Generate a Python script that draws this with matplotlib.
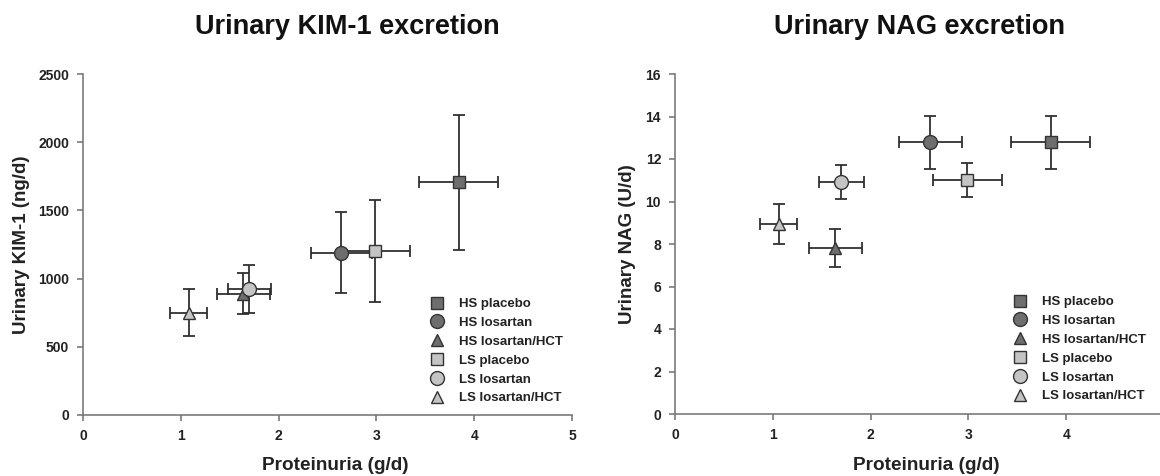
"""
Urinary KIM-1 and NAG excretion against proteinuria, per treatment period
"""

import matplotlib
matplotlib.use('Agg')
import matplotlib.pyplot as plt
from matplotlib.lines import Line2D

plt.rcParams['font.family'] = ['Liberation Sans', 'DejaVu Sans']
plt.rcParams['font.weight'] = 'bold'

groups = ['HS placebo', 'HS losartan', 'HS losartan/HCT',
          'LS placebo', 'LS losartan', 'LS losartan/HCT']
markers = ['s', 'o', '^', 's', 'o', '^']
fills = ['#6e6e6e', '#6e6e6e', '#6e6e6e', '#c4c4c4', '#c4c4c4', '#c4c4c4']

# proteinuria (g/d), mean +- sem
kim_x = [3.84, 2.64, 1.64, 2.99, 1.70, 1.08]
kim_xerr = [0.40, 0.31, 0.27, 0.35, 0.22, 0.19]
# urinary KIM-1 (ng/d)
kim_y = [1707, 1188, 890, 1202, 924, 751]
kim_yerr = [495, 297, 152, 377, 175, 170]

nag_x = [3.84, 2.61, 1.64, 2.99, 1.70, 1.06]
nag_xerr = [0.40, 0.32, 0.27, 0.35, 0.23, 0.19]
# urinary NAG (U/d)
nag_y = [12.78, 12.78, 7.82, 11.01, 10.93, 8.95]
nag_yerr = [1.24, 1.24, 0.90, 0.78, 0.81, 0.95]

xticks = [0, 1, 2, 3, 4, 5]
kim_ticks = [0, 500, 1000, 1500, 2000, 2500]
nag_ticks = [0, 2, 4, 6, 8, 10, 12, 14, 16]

W, H = 1160., 476.
fig = plt.figure(figsize=(W/100, H/100), dpi=100)

def px(x0, y0, x1, y1):
    # axes rect from pixel corners (top-left origin)
    return [x0/W, 1-y1/H, (x1-x0)/W, (y1-y0)/H]

ax1 = fig.add_axes(px(83, 74, 572, 415))
ax2 = fig.add_axes(px(675, 74, 1164, 414))

def draw(ax, xs, xe, ys, ye, yticks):
    for i in range(len(groups)):
        ax.errorbar(xs[i], ys[i], xerr=xe[i], yerr=ye[i], fmt='none',
                    ecolor='#303030', elinewidth=1.3, capsize=4.5, capthick=1.3, zorder=2)
    for i in range(len(groups)):
        ms = 10 if markers[i] == 'o' else 9
        ax.plot(xs[i], ys[i], marker=markers[i], ms=ms, mfc=fills[i],
                mec='#333333', mew=1.0, ls='none', zorder=3)
    ax.set_xlim(0, 5)
    ax.set_ylim(yticks[0], yticks[-1])
    ax.set_xticks(xticks)
    ax.set_yticks(yticks)
    for s in ['top', 'right']:
        ax.spines[s].set_visible(False)
    for s in ['left', 'bottom']:
        ax.spines[s].set_color('#7a7a7a')
        ax.spines[s].set_linewidth(1.2)
    ax.tick_params(direction='out', length=4, width=1.2, color='#7a7a7a',
                   labelsize=10, pad=6)
    for lab in ax.get_xticklabels() + ax.get_yticklabels():
        lab.set_fontweight('bold')
        lab.set_color('#222222')

draw(ax1, kim_x, kim_xerr, kim_y, kim_yerr, kim_ticks)
draw(ax2, nag_x, nag_xerr, nag_y, nag_yerr, nag_ticks)

fig.text(347/W, 1-27/H, 'Urinary KIM-1 excretion', ha='center', va='center',
         fontsize=19.5, fontweight='bold', color='#111111')
fig.text(920/W, 1-27/H, 'Urinary NAG excretion', ha='center', va='center',
         fontsize=19.5, fontweight='bold', color='#111111')
fig.text(335/W, 1-466/H, 'Proteinuria (g/d)', ha='center', va='center',
         fontsize=13.7, fontweight='bold', color='#222222')
fig.text(926/W, 1-466/H, 'Proteinuria (g/d)', ha='center', va='center',
         fontsize=13.7, fontweight='bold', color='#222222')
fig.text(22/W, 1-245/H, 'Urinary KIM-1 (ng/d)', ha='center', va='center',
         rotation=90, fontsize=13.5, fontweight='bold', color='#222222')
fig.text(627/W, 1-244/H, 'Urinary NAG (U/d)', ha='center', va='center',
         rotation=90, fontsize=13.5, fontweight='bold', color='#222222')

handles = [Line2D([], [], marker=markers[i], ls='none', mfc=fills[i], mec='#333333',
                  mew=1.0, ms=10 if markers[i] == 'o' else 9) for i in range(len(groups))]
for ax, (lx, ly) in [(ax1, (430, 298)), (ax2, (1013, 296))]:
    leg = ax.legend(handles, groups, loc='upper left', bbox_to_anchor=(lx/W, 1-ly/H),
                    bbox_transform=fig.transFigure, frameon=False, fontsize=9.5,
                    handlelength=1, handletextpad=1.2, labelspacing=0.5,
                    borderpad=0, borderaxespad=0)
    for t in leg.get_texts():
        t.set_fontweight('bold')
        t.set_color('#222222')

fig.savefig('out.png', dpi=100)
